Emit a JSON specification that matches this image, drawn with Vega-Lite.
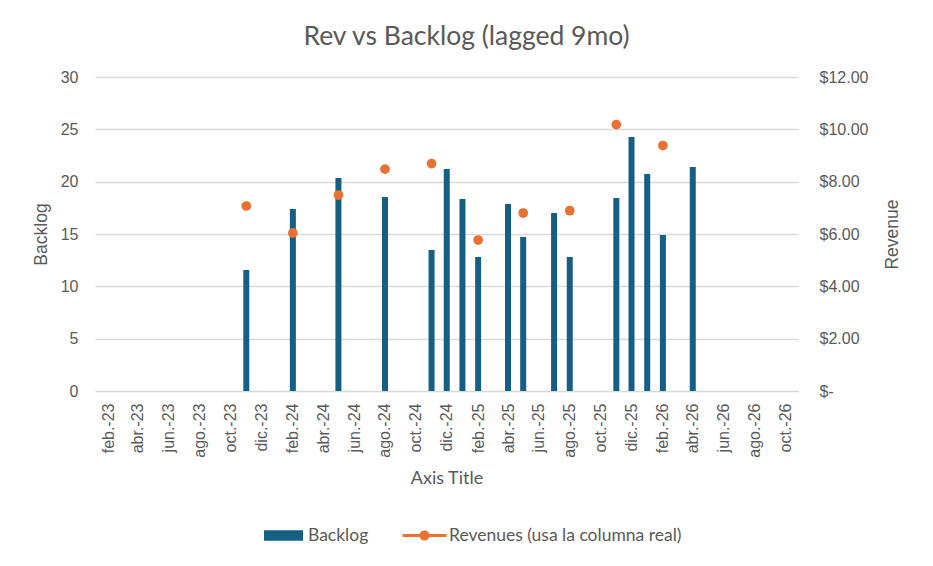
{
  "$schema": "https://vega.github.io/schema/vega-lite/v6.json",
  "width": 703,
  "height": 314,
  "autosize": {"type": "none"},
  "padding": {"left": 95, "top": 77, "right": 135, "bottom": 175},
  "background": "white",
  "title": {
    "text": "Rev vs Backlog (lagged 9mo)",
    "anchor": "middle",
    "dx": 20,
    "offset": 19,
    "font": "Lato",
    "fontSize": 26.5,
    "fontWeight": "normal",
    "color": "#595959"
  },
  "data": {
    "values": [
      {"date": "2023-11-01", "series": "Backlog", "value": 11.56},
      {"date": "2024-02-01", "series": "Backlog", "value": 17.39},
      {"date": "2024-05-01", "series": "Backlog", "value": 20.35},
      {"date": "2024-08-01", "series": "Backlog", "value": 18.54},
      {"date": "2024-11-01", "series": "Backlog", "value": 13.47},
      {"date": "2024-12-01", "series": "Backlog", "value": 21.21},
      {"date": "2025-01-01", "series": "Backlog", "value": 18.34},
      {"date": "2025-02-01", "series": "Backlog", "value": 12.8},
      {"date": "2025-04-01", "series": "Backlog", "value": 17.87},
      {"date": "2025-05-01", "series": "Backlog", "value": 14.71},
      {"date": "2025-07-01", "series": "Backlog", "value": 17.01},
      {"date": "2025-08-01", "series": "Backlog", "value": 12.8},
      {"date": "2025-11-01", "series": "Backlog", "value": 18.44},
      {"date": "2025-12-01", "series": "Backlog", "value": 24.27},
      {"date": "2026-01-01", "series": "Backlog", "value": 20.73},
      {"date": "2026-02-01", "series": "Backlog", "value": 14.9},
      {"date": "2026-04-01", "series": "Backlog", "value": 21.4},
      {"date": "2023-11-01", "series": "Revenues (usa la columna real)", "value": 7.07},
      {"date": "2024-02-01", "series": "Revenues (usa la columna real)", "value": 6.04},
      {"date": "2024-05-01", "series": "Revenues (usa la columna real)", "value": 7.49},
      {"date": "2024-08-01", "series": "Revenues (usa la columna real)", "value": 8.48},
      {"date": "2024-11-01", "series": "Revenues (usa la columna real)", "value": 8.69},
      {"date": "2025-02-01", "series": "Revenues (usa la columna real)", "value": 5.77},
      {"date": "2025-05-01", "series": "Revenues (usa la columna real)", "value": 6.8},
      {"date": "2025-08-01", "series": "Revenues (usa la columna real)", "value": 6.89},
      {"date": "2025-11-01", "series": "Revenues (usa la columna real)", "value": 10.18},
      {"date": "2026-02-01", "series": "Revenues (usa la columna real)", "value": 9.38}
    ]
  },
  "encoding": {
    "x": {
      "field": "date",
      "type": "temporal",
      "scale": {
        "type": "utc",
        "domain": [
          {"year": 2023, "month": 1, "date": 16, "utc": true},
          {"year": 2026, "month": 10, "date": 16, "utc": true}
        ]
      },
      "axis": {
        "title": "Axis Title",
        "titleFont": "Lato",
        "titleFontSize": 18,
        "titlePadding": 12,
        "labelAngle": -90,
        "labelPadding": 12,
        "grid": false,
        "domain": false,
        "ticks": false,
        "values": [
          {"year": 2023, "month": 2, "date": 1, "utc": true},
          {"year": 2023, "month": 4, "date": 1, "utc": true},
          {"year": 2023, "month": 6, "date": 1, "utc": true},
          {"year": 2023, "month": 8, "date": 1, "utc": true},
          {"year": 2023, "month": 10, "date": 1, "utc": true},
          {"year": 2023, "month": 12, "date": 1, "utc": true},
          {"year": 2024, "month": 2, "date": 1, "utc": true},
          {"year": 2024, "month": 4, "date": 1, "utc": true},
          {"year": 2024, "month": 6, "date": 1, "utc": true},
          {"year": 2024, "month": 8, "date": 1, "utc": true},
          {"year": 2024, "month": 10, "date": 1, "utc": true},
          {"year": 2024, "month": 12, "date": 1, "utc": true},
          {"year": 2025, "month": 2, "date": 1, "utc": true},
          {"year": 2025, "month": 4, "date": 1, "utc": true},
          {"year": 2025, "month": 6, "date": 1, "utc": true},
          {"year": 2025, "month": 8, "date": 1, "utc": true},
          {"year": 2025, "month": 10, "date": 1, "utc": true},
          {"year": 2025, "month": 12, "date": 1, "utc": true},
          {"year": 2026, "month": 2, "date": 1, "utc": true},
          {"year": 2026, "month": 4, "date": 1, "utc": true},
          {"year": 2026, "month": 6, "date": 1, "utc": true},
          {"year": 2026, "month": 8, "date": 1, "utc": true},
          {"year": 2026, "month": 10, "date": 1, "utc": true}
        ],
        "labelExpr": "['ene','feb','mar','abr','may','jun','jul','ago','sep','oct','nov','dic'][utcmonth(datum.value)] + '.-' + utcFormat(datum.value, '%y')"
      }
    }
  },
  "layer": [
    {
      "transform": [{"filter": "datum.series == 'Backlog'"}],
      "mark": {"type": "bar", "width": 6, "color": "#156082"},
      "encoding": {
        "y": {
          "field": "value",
          "type": "quantitative",
          "scale": {"domain": [0, 30], "nice": false, "zero": true},
          "axis": {
            "title": "Backlog",
            "orient": "left",
            "values": [0, 5, 10, 15, 20, 25, 30],
            "grid": true,
            "labelPadding": 17,
            "titlePadding": 10
          }
        }
      }
    },
    {
      "transform": [{"filter": "datum.series != 'Backlog'"}],
      "mark": {"type": "point", "filled": true, "size": 95, "opacity": 1, "color": "#E97132"},
      "encoding": {
        "y": {
          "field": "value",
          "type": "quantitative",
          "scale": {"domain": [0, 12], "nice": false, "zero": true},
          "axis": {
            "title": "Revenue",
            "orient": "right",
            "titleAngle": -90,
            "values": [0, 2, 4, 6, 8, 10, 12],
            "grid": false,
            "labelPadding": 21,
            "titlePadding": 34,
            "labelExpr": "datum.value == 0 ? '$-' : '$' + format(datum.value, '.2f')"
          }
        }
      }
    },
    {
      "mark": {"type": "point", "filled": true, "opacity": 0, "size": 1521},
      "encoding": {
        "color": {
          "field": "series",
          "type": "nominal",
          "scale": {
            "domain": ["Backlog", "Revenues (usa la columna real)"],
            "range": ["#156082", "#E97132"]
          },
          "legend": {
            "title": null,
            "orient": "none",
            "direction": "horizontal",
            "legendX": 169,
            "legendY": 439,
            "symbolOpacity": 1,
            "symbolSize": 1521,
            "symbolStrokeWidth": 0,
            "labelOffset": 5,
            "columnPadding": 33,
            "labelFont": "Lato",
            "labelFontSize": 17.5,
            "labelColor": "#595959",
            "labelLimit": 400
          }
        },
        "shape": {
          "field": "series",
          "type": "nominal",
          "scale": {
            "domain": ["Backlog", "Revenues (usa la columna real)"],
            "range": [
              "M-1,-0.27H1V0.27H-1Z",
              "M-1.13,-0.077H1.13V0.077H-1.13Z M0.26,0A0.26,0.26,0,1,1,-0.26,0A0.26,0.26,0,1,1,0.26,0Z"
            ]
          },
          "legend": {
            "title": null,
            "orient": "none",
            "direction": "horizontal",
            "legendX": 169,
            "legendY": 439,
            "symbolOpacity": 1,
            "symbolSize": 1521,
            "symbolStrokeWidth": 0,
            "labelOffset": 5,
            "columnPadding": 33,
            "labelFont": "Lato",
            "labelFontSize": 17.5,
            "labelColor": "#595959",
            "labelLimit": 400
          }
        }
      }
    }
  ],
  "resolve": {"scale": {"y": "independent"}, "axis": {"y": "independent"}},
  "config": {
    "view": {"stroke": null},
    "axis": {
      "labelFont": "Liberation Sans",
      "labelFontSize": 16,
      "labelColor": "#595959",
      "titleFont": "Liberation Sans",
      "titleFontSize": 17.5,
      "titleFontWeight": "normal",
      "titleColor": "#595959",
      "domain": false,
      "ticks": false,
      "gridColor": "#d9d9d9",
      "gridWidth": 1.3
    }
  }
}
